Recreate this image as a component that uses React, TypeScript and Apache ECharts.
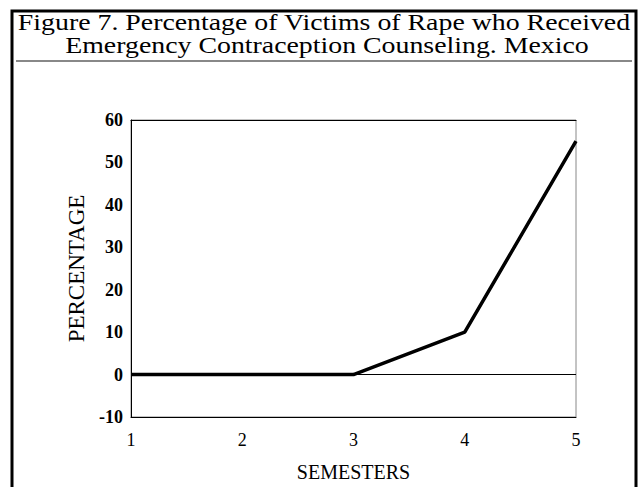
import React, { useEffect, useRef } from "react";
import * as echarts from "echarts";

const semesters = ["1", "2", "3", "4", "5"];
const percentages = [0, 0, 0, 10, 55];
const titleLines = [
  "Figure 7. Percentage of Victims of Rape who Received",
  "Emergency Contraception Counseling. Mexico",
];
const yTicks = { min: -10, max: 60, interval: 10 };

export default function App() {
  const ref = useRef<HTMLDivElement>(null);
  useEffect(() => {
    document.body.style.margin = "0";
    if (!ref.current) return;
    const chart = echarts.init(ref.current, null, { renderer: "svg" });
    const serif = "'Liberation Serif', 'Times New Roman', serif";
    chart.setOption({
      animation: false,
      backgroundColor: "#ffffff",
      grid: { left: 131, top: 120, right: 62, bottom: 61, show: true, borderColor: "#888", borderWidth: 1 },
      xAxis: [
        {
          type: "category",
          data: semesters,
          boundaryGap: false,
          axisLine: { onZero: false, lineStyle: { color: "#000", width: 1 } },
          axisTick: { show: false },
          axisLabel: { color: "#000", fontFamily: serif, fontSize: 18, margin: 14 },
          name: "SEMESTERS",
          nameLocation: "middle",
          nameGap: 45,
          nameTextStyle: { color: "#000", fontFamily: serif, fontSize: 20 },
          splitLine: { show: false },
        },
        {
          type: "category",
          data: semesters,
          boundaryGap: false,
          position: "top",
          axisLine: { onZero: false, lineStyle: { color: "#000", width: 1 } },
          axisTick: { show: false },
          axisLabel: { show: false },
          splitLine: { show: false },
        },
      ],
      yAxis: {
        type: "value",
        min: yTicks.min,
        max: yTicks.max,
        interval: yTicks.interval,
        axisLine: { show: true, lineStyle: { color: "#000", width: 1 } },
        axisTick: { show: false },
        axisLabel: { color: "#000", fontFamily: serif, fontSize: 18, fontWeight: "bold", margin: 8 },
        splitLine: { show: false },
        name: "PERCENTAGE",
        nameLocation: "middle",
        nameGap: 40,
        nameTextStyle: { color: "#000", fontFamily: serif, fontSize: 23 },
      },
      graphic: [
        {
          type: "rect",
          shape: { x: 12, y: 11, width: 624, height: 500 },
          style: { fill: "none", stroke: "#000", lineWidth: 3 },
          silent: true,
        },
        {
          type: "line",
          shape: { x1: 16, y1: 61, x2: 632, y2: 61 },
          style: { stroke: "#888", lineWidth: 2 },
          silent: true,
        },
        {
          type: "text",
          x: 324,
          y: 22,
          scaleX: 1.16,
          style: {
            text: titleLines[0],
            font: `24px ${serif}`,
            fill: "#000",
            align: "center",
            verticalAlign: "middle",
          },
        },
        {
          type: "text",
          x: 327,
          y: 45,
          scaleX: 1.16,
          style: {
            text: titleLines[1],
            font: `24px ${serif}`,
            fill: "#000",
            align: "center",
            verticalAlign: "middle",
          },
        },
      ],
      series: [
        {
          type: "line",
          data: percentages,
          showSymbol: false,
          lineStyle: { color: "#000", width: 3.5 },
          markLine: {
            silent: true,
            symbol: "none",
            label: { show: false },
            lineStyle: { color: "#000", width: 1, type: "solid" },
            data: [{ yAxis: 0 }],
          },
        },
      ],
    });
    return () => chart.dispose();
  }, []);
  return <div ref={ref} style={{ width: 638, height: 487 }} />;
}
